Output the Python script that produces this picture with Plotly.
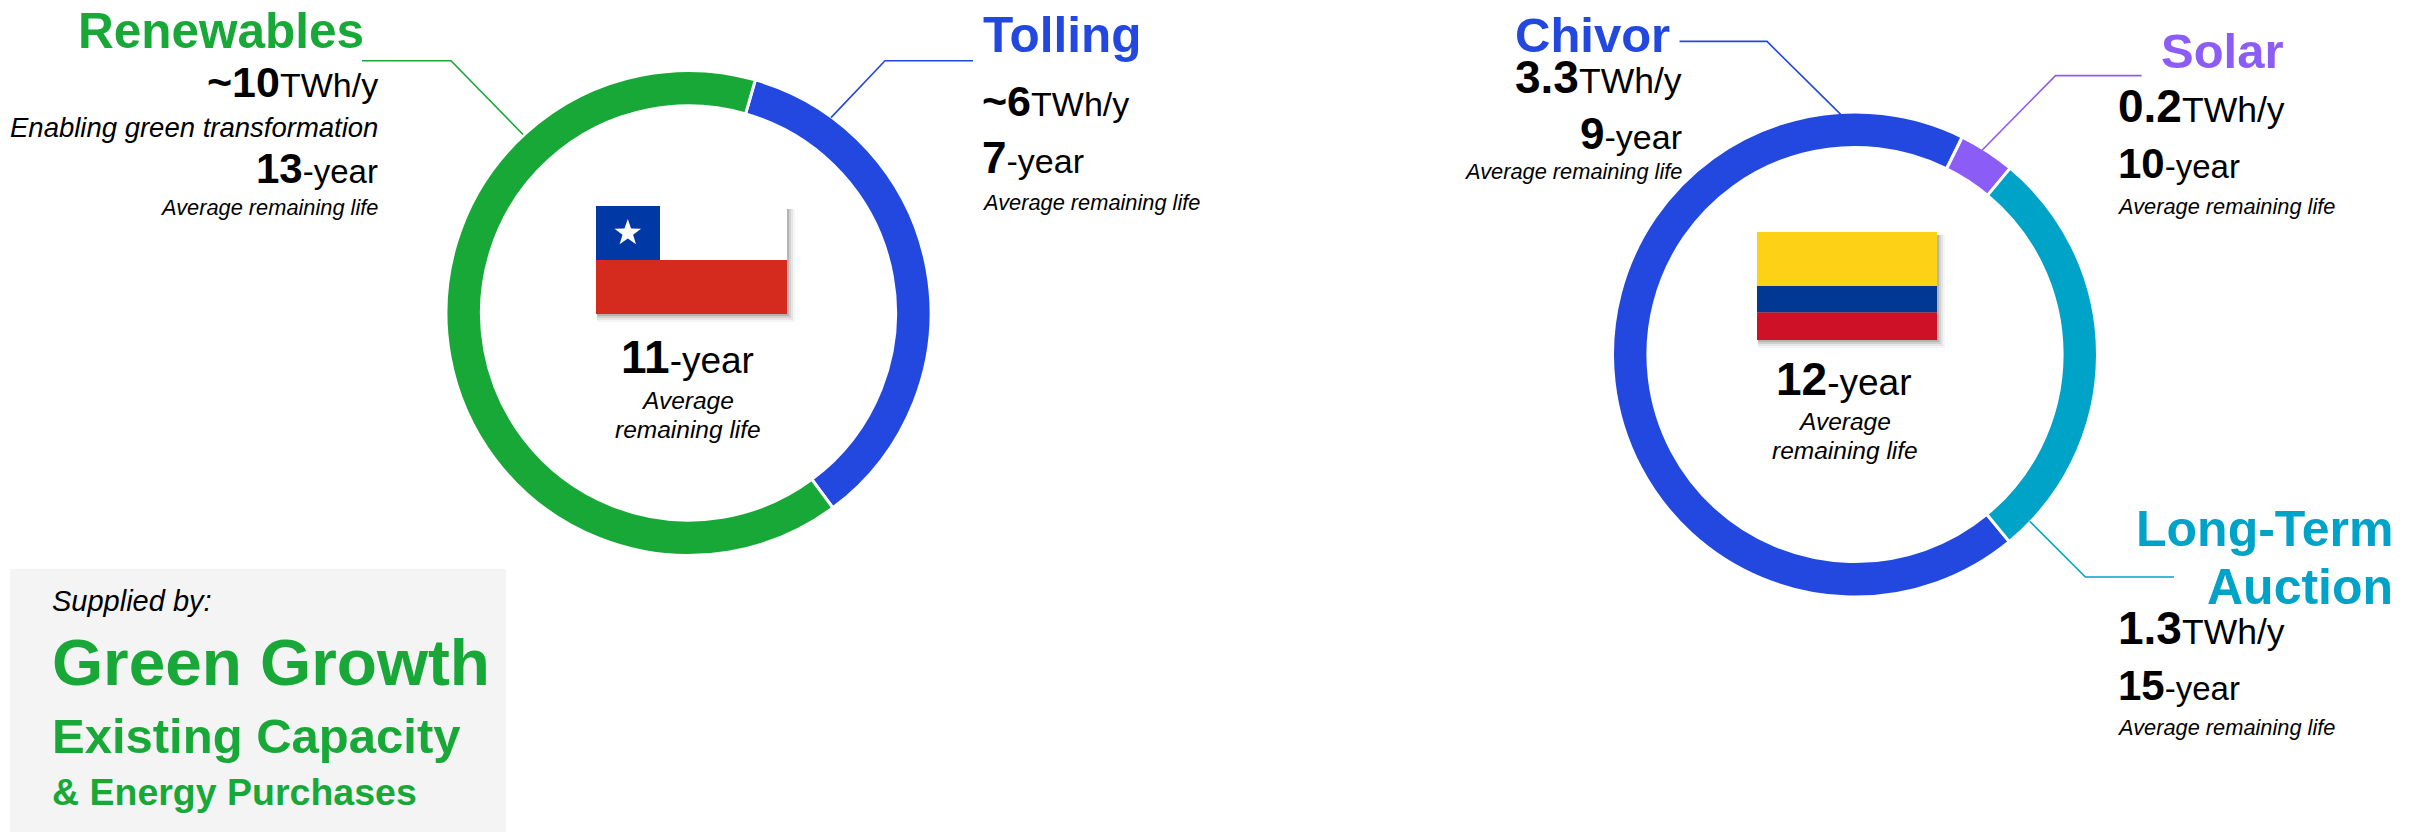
import plotly.graph_objects as go

W, H = 2422, 832
FONT = "Liberation Sans"
GREEN, BLUE, PURPLE, TEAL = "#17A838", "#2248E0", "#8B5CF6", "#00A3C8"

chile_segments = ["Tolling", "Renewables"]
chile_twh = [5.7, 10.4]
chile_colors = [BLUE, GREEN]
colombia_segments = ["Chivor", "Solar", "Long-Term Auction"]
colombia_twh = [3.27, 0.18, 1.34]
colombia_colors = [BLUE, PURPLE, TEAL]
life_label = "Average remaining life"


def fx(x):
    return x / W


def fy(y):
    return 1 - y / H


def donut(labels, values, colors, cx, cy, r, rotation):
    return go.Pie(
        labels=labels, values=values, sort=False, direction="clockwise",
        rotation=rotation, hole=0.854, textinfo="none", showlegend=False,
        marker=dict(colors=colors, line=dict(color="white", width=3)),
        domain=dict(x=[fx(cx - r), fx(cx + r)], y=[fy(cy + r), fy(cy - r)]),
    )


fig = go.Figure()
fig.add_trace(donut(chile_segments, chile_twh, chile_colors, 688.5, 313, 242.5, 16))
fig.add_trace(donut(colombia_segments, colombia_twh, colombia_colors, 1855, 354.5, 242.5, 140.5))

shapes, annos = [], []


def rect(x0, y0, x1, y1, color):
    shapes.append(dict(type="rect", xref="paper", yref="paper", x0=fx(x0), x1=fx(x1),
                       y0=fy(y1), y1=fy(y0), fillcolor=color, line=dict(width=0), layer="below"))


def leader(points, color):
    path = "M " + " L ".join(f"{fx(x):.5f},{fy(y):.5f}" for x, y in points)
    shapes.append(dict(type="path", xref="paper", yref="paper", path=path,
                       line=dict(color=color, width=1.6), layer="above"))


def text(s, x, base, size, anchor="left", color="black"):
    # base = wanted baseline in px; size = largest font size in the string
    annos.append(dict(text=s, x=fx(x), y=fy(base + 0.212 * size + 1), xref="paper", yref="paper",
                      xanchor=anchor, yanchor="bottom", showarrow=False, align=anchor, borderpad=0,
                      font=dict(family=FONT, size=size, color=color)))


def shadow(x0, y0, x1, y1):
    for d, a in ((8, 0.04), (6, 0.06), (4, 0.09), (2, 0.14)):
        rect(x0 + 1, y0 + 3, x1 + d, y1 + d, f"rgba(0,0,0,{a})")


def metric(num, unit, unit_size=33):
    return f'<b>{num}</b><span style="font-size:{unit_size}px">{unit}</span>'


# grey box
rect(10, 569, 506, 832, "#F4F4F4")

# leaders
leader([(362, 60.8), (451, 60.8), (523, 134.5)], GREEN)
leader([(973, 60.8), (885, 60.8), (831, 117.6)], BLUE)
leader([(1679.5, 41.4), (1767, 41.4), (1840.7, 114.4)], BLUE)
leader([(2141.6, 75.6), (2055.5, 75.6), (1982, 150.2)], PURPLE)
leader([(2029.7, 521.3), (2085.4, 577), (2174, 577)], TEAL)

# Chile flag
shadow(596, 206, 787, 314)
rect(596, 206, 787, 260, "#FFFFFF")
rect(596, 260, 787, 314, "#D52B1E")
rect(596, 206, 660, 260, "#0039A6")
star = [(627.8, 219), (631.1, 228.5), (641.1, 228.7), (633.1, 234.7), (636, 244.3),
        (627.8, 238.6), (619.6, 244.3), (622.5, 234.7), (614.5, 228.7), (624.5, 228.5)]
shapes.append(dict(type="path", xref="paper", yref="paper", line=dict(width=0), fillcolor="white",
                   path="M " + " L ".join(f"{fx(x):.5f},{fy(y):.5f}" for x, y in star) + " Z"))

# Colombia flag
shadow(1757, 232, 1937, 340)
rect(1757, 232, 1937, 286, "#FCD116")
rect(1757, 286, 1937, 312.4, "#003893")
rect(1757, 312.4, 1937, 340, "#CE1126")

# Chile text
text("<b>Renewables</b>", 365, 47.4, 49.5, "right", GREEN)
text(metric("~10", "TWh/y", 34), 379, 97.1, 43, "right")
text("<i>Enabling green transformation</i>", 379, 137.5, 27.5, "right")
text(metric("13", "-year"), 379, 183.3, 42, "right")
text(f"<i>{life_label}</i>", 379, 215.2, 21.8, "right")

text("<b>Tolling</b>", 982, 51.8, 49.5, "left", BLUE)
text(metric("~6", "TWh/y", 34), 980.5, 116, 43)
text(metric("7", "-year", 34), 980.5, 172.4, 44)
text(f"<i>{life_label}</i>", 980.5, 210.2, 21.8)

text(metric("11", "-year", 37), 687.5, 373.7, 46, "center")
text("<i>Average</i>", 687.5, 408.5, 24.5, "center")
text("<i>remaining life</i>", 687.5, 437.4, 24.5, "center")

# Colombia text
text("<b>Chivor</b>", 1671, 51.7, 49, "right", BLUE)
text(metric("3.3", "TWh/y", 35.5), 1683, 93.5, 46, "right")
text(metric("9", "-year", 34), 1683, 148.2, 44, "right")
text(f"<i>{life_label}</i>", 1683, 179.1, 21.8, "right")

text("<b>Solar</b>", 2285, 67.7, 49, "right", PURPLE)
text(metric("0.2", "TWh/y", 35.5), 2117, 122, 46)
text(metric("10", "-year"), 2117, 177.8, 42)
text(f"<i>{life_label}</i>", 2116, 213.9, 21.8)

text(metric("12", "-year", 37), 1843.7, 395, 46, "center")
text("<i>Average</i>", 1844.7, 429.8, 24.5, "center")
text("<i>remaining life</i>", 1844.7, 458.6, 24.5, "center")

text("<b>Long-Term</b>", 2394, 546.2, 50, "right", TEAL)
text("<b>Auction</b>", 2394, 603.9, 50, "right", TEAL)
text(metric("1.3", "TWh/y", 35.5), 2117, 644.7, 46)
text(metric("15", "-year"), 2117, 700.4, 42)
text(f"<i>{life_label}</i>", 2116, 735.2, 21.8)

# Box text
text("<i>Supplied by:</i>", 51, 611, 29)
text("<b>Green Growth</b>", 50.5, 685, 65.7, "left", GREEN)
text("<b>Existing Capacity</b>", 51, 753, 49, "left", GREEN)
text("<b>&amp; Energy Purchases</b>", 51, 805, 37.5, "left", GREEN)

fig.update_layout(width=W, height=H, margin=dict(l=0, r=0, t=0, b=0), paper_bgcolor="white",
                  plot_bgcolor="white", shapes=shapes, annotations=annos, font=dict(family=FONT))
fig.write_html("out.html", config=dict(displayModeBar=False),
               post_script="document.body.style.margin='0';document.documentElement.style.overflow='hidden';")
